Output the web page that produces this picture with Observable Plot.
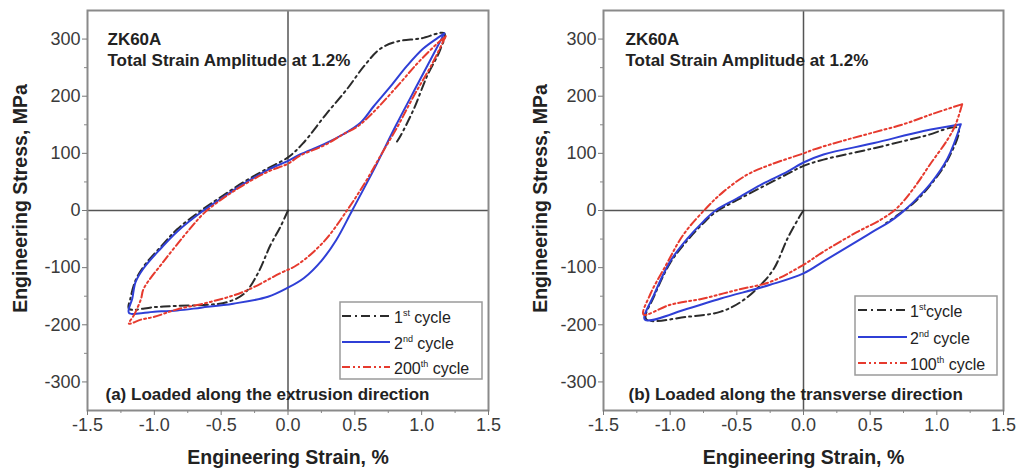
<!DOCTYPE html>
<html>
<head>
<meta charset="utf-8">
<script src="https://cdn.jsdelivr.net/npm/d3@7"></script>
<script src="https://cdn.jsdelivr.net/npm/@observablehq/plot@0.6"></script>
<style>
  html, body { margin: 0; padding: 0; background: #fff; }
  #wrap { display: flex; width: 1020px; height: 472px; }
  #wrap svg { display: block; }
</style>
</head>
<body>
<div id="wrap"></div>
<script>
// Axis ticks
const strainTicks = [-1.5, -1.0, -0.5, 0.0, 0.5, 1.0, 1.5];
const strainMinor = [-1.25, -0.75, -0.25, 0.25, 0.75, 1.25];
const stressTicks = [-300, -200, -100, 0, 100, 200, 300];
const stressMinor = [-250, -150, -50, 50, 150, 250];

// (a) extrusion direction — 1st cycle (starts at origin, compression first)
const extCycle1Strain = [0, -0.06, -0.13, -0.23, -0.33, -0.45, -0.6, -0.83, -1.0, -1.19, -1.18, -1.14, -1.08, -0.95, -0.83, -0.65, -0.5, -0.33, -0.15, 0, 0.11, 0.29, 0.44, 0.57, 0.69, 0.82, 0.99, 1.17, 1.14, 1.04, 0.94, 0.84, 0.8];
const extCycle1Stress = [0, -30, -60, -112, -146, -160, -165, -167, -169, -172, -155, -122, -98, -63, -33, 0, 24, 50, 74, 93, 117, 170, 212, 253, 283, 296, 301, 310, 282, 235, 177, 130, 115];

// (a) 2nd cycle
const extCycle2Strain = [1.17, 0.99, 0.81, 0.65, 0.48, 0.36, 0.25, 0.12, 0, -0.15, -0.41, -0.65, -0.83, -1.0, -1.19, -1.165, -1.14, -1.08, -0.95, -0.83, -0.65, -0.5, -0.33, -0.15, 0, 0.09, 0.27, 0.41, 0.54, 0.64, 0.77, 0.89, 1.01, 1.12, 1.17];
const extCycle2Stress = [310, 230, 150, 75, 0, -52, -88, -118, -135, -151, -163, -170, -175, -177, -179, -154, -125, -101, -66, -37, -3, 21, 47, 71, 87, 98, 116, 133, 153, 182, 218, 253, 283, 302, 310];

// (a) 200th cycle
const extCycle200Strain = [1.18, 1.07, 0.94, 0.82, 0.69, 0.59, 0.45, 0.27, 0.07, -0.06, -0.33, -0.58, -0.83, -1.0, -1.1, -1.19, -1.15, -1.1, -1.08, -0.93, -0.73, -0.63, -0.5, -0.33, -0.15, 0, 0.09, 0.27, 0.41, 0.52, 0.63, 0.82, 0.97, 1.12, 1.18];
const extCycle200Stress = [305, 253, 200, 147, 95, 54, 3, -54, -95, -110, -142, -160, -173, -186, -191, -198, -182, -155, -137, -89, -31, -5, 19, 45, 68, 82, 96, 114, 133, 147, 170, 218, 258, 293, 305];

// (b) transverse direction — 1st cycle
const trvCycle1Strain = [0, -0.02, -0.12, -0.22, -0.32, -0.47, -0.62, -0.87, -1.18, -1.12, -1.0, -0.87, -0.75, -0.66, -0.5, -0.32, -0.12, 0, 0.15, 0.53, 0.9, 1.16, 1.08, 0.95, 0.83, 0.7, 0.62];
const trvCycle1Stress = [0, -7, -49, -101, -130, -160, -177, -186, -190, -150, -92, -52, -22, -3, 18, 40, 64, 78, 89, 109, 130, 144, 88, 44, 14, -9, -22];

// (b) 2nd cycle
const trvCycle2Strain = [1.18, 1.08, 0.95, 0.83, 0.73, 0.65, 0.52, 0.4, 0.15, 0, -0.25, -0.62, -0.87, -1.19, -1.12, -1.0, -0.87, -0.75, -0.66, -0.5, -0.32, -0.12, 0, 0.15, 0.53, 0.9, 1.18];
const trvCycle2Stress = [151, 91, 46, 16, -5, -19, -37, -54, -89, -110, -130, -154, -172, -191, -147, -89, -49, -19, 0, 21, 45, 68, 84, 98, 118, 139, 151];

// (b) 100th cycle
const trvCycle100Strain = [1.19, 1.14, 1.08, 0.95, 0.83, 0.7, 0.58, 0.4, 0.15, 0, -0.25, -0.5, -0.75, -1.0, -1.2, -1.15, -1.03, -0.9, -0.73, -0.6, -0.42, -0.25, 0, 0.08, 0.28, 0.5, 0.75, 0.98, 1.19];
const trvCycle100Stress = [186, 150, 124, 81, 40, 4, -16, -38, -72, -95, -125, -139, -154, -165, -182, -147, -95, -42, 4, 33, 63, 80, 100, 107, 121, 135, 151, 170, 186];

const rows = (xs, ys) => xs.map((x, i) => ({strain: x, stress: ys[i]}));

const styles = {
  first:  {stroke: "#2b2b2b", strokeDasharray: "9,4,2,4"},
  second: {stroke: "#2f3fd6", strokeDasharray: null},
  later:  {stroke: "#e63a2e", strokeDasharray: "8,3,2,3,2,3"}
};

const FONT = "Liberation Sans, Arial, Helvetica, sans-serif";

function panel({c1, c2, cn, marginLeft, marginRight, yLabelDx, tag, notes, legend}) {
  const lineMark = (data, s) => Plot.line(data, {
    x: "strain", y: "stress", stroke: s.stroke, strokeWidth: 2,
    strokeDasharray: s.strokeDasharray, curve: "catmull-rom"
  });
  const svg = Plot.plot({
    width: 510, height: 472,
    marginTop: 10, marginBottom: 62, marginLeft, marginRight,
    style: {fontFamily: FONT, background: "#fff", overflow: "visible"},
    x: {domain: [-1.5, 1.5]},
    y: {domain: [-350, 350]},
    marks: [
      Plot.ruleX([0], {stroke: "#555", strokeWidth: 1.5}),
      Plot.ruleY([0], {stroke: "#555", strokeWidth: 1.5}),
      lineMark(c1, styles.first),
      lineMark(c2, styles.second),
      lineMark(cn, styles.later),
      Plot.frame({stroke: "#8a8a8a", strokeWidth: 2}),
      Plot.axisX({ticks: strainTicks, tickSize: 5, tickPadding: 3, fontSize: 18, fill: "#3a3a3a", stroke: "#777",
        tickFormat: d => d.toFixed(1), label: null}),
      Plot.axisX({ticks: strainMinor, tickSize: 3, tickFormat: () => "", stroke: "#888", label: null}),
      Plot.axisY({ticks: stressTicks, tickSize: 5, tickPadding: 2, fontSize: 18, fill: "#3a3a3a", stroke: "#777",
        tickFormat: d => String(d), label: null}),
      Plot.axisY({ticks: stressMinor, tickSize: 3, tickFormat: () => "", stroke: "#888", label: null}),
      Plot.text(["Engineering Strain, %"], {frameAnchor: "bottom", dy: 53, lineAnchor: "bottom",
        fontSize: 19.5, fontWeight: "bold", fill: "#222"}),
      Plot.text(["Engineering Stress, MPa"], {frameAnchor: "left", dx: yLabelDx, dy: -12, rotate: -90,
        textAnchor: "middle", lineAnchor: "middle", fontSize: 19.5, fontWeight: "bold", fill: "#222"}),
      Plot.text(["ZK60A"], {frameAnchor: "top-left", dx: notes.dx, dy: 22, lineAnchor: "top",
        textAnchor: "start", fontSize: 17, fontWeight: "bold", fill: "#222"}),
      Plot.text(["Total Strain Amplitude at 1.2%"], {frameAnchor: "top-left", dx: notes.dx, dy: 43, lineAnchor: "top",
        textAnchor: "start", fontSize: 17, fontWeight: "bold", fill: "#222"}),
      Plot.text([tag.text], {frameAnchor: "top-left", dx: tag.dx, dy: 377, lineAnchor: "top",
        textAnchor: "start", fontSize: 17, fontWeight: "bold", fill: "#222"})
    ]
  });

  // Legend box with line samples
  const g = d3.select(svg).append("g")
    .attr("font-family", FONT).attr("fill", "#222").attr("text-anchor", "start");
  g.append("rect").attr("x", legend.x0).attr("y", legend.y0)
    .attr("width", legend.x1 - legend.x0).attr("height", legend.y1 - legend.y0)
    .attr("fill", "#fff").attr("stroke", "#9a9a9a").attr("stroke-width", 1.5);
  legend.items.forEach((it, i) => {
    const ly = legend.lineY[i];
    g.append("line").attr("x1", legend.lx0).attr("x2", legend.lx1).attr("y1", ly).attr("y2", ly)
      .attr("stroke", it.style.stroke).attr("stroke-width", 2.2)
      .attr("stroke-dasharray", it.style.strokeDasharray);
    const t = g.append("text").attr("x", legend.tx).attr("y", ly + 6.5)
      .attr("font-size", 16).attr("text-anchor", "start");
    t.append("tspan").text(it.n);
    t.append("tspan").attr("font-size", 9).attr("dy", -7).text(it.sup);
    t.append("tspan").attr("dy", 7).text(it.rest);
  });
  return svg;
}

const wrap = document.getElementById("wrap");

wrap.appendChild(panel({
  c1: rows(extCycle1Strain, extCycle1Stress),
  c2: rows(extCycle2Strain, extCycle2Stress),
  cn: rows(extCycle200Strain, extCycle200Stress),
  marginLeft: 87, marginRight: 22, yLabelDx: -67,
  notes: {dx: 20},
  tag: {text: "(a) Loaded along the extrusion direction", dx: 18},
  legend: {
    x0: 340, x1: 482, y0: 302, y1: 379, lx0: 342, lx1: 390, tx: 394,
    lineY: [316, 342, 367],
    items: [
      {n: "1", sup: "st", rest: " cycle", style: styles.first},
      {n: "2", sup: "nd", rest: " cycle", style: styles.second},
      {n: "200", sup: "th", rest: " cycle", style: styles.later}
    ]
  }
}));

wrap.appendChild(panel({
  c1: rows(trvCycle1Strain, trvCycle1Stress),
  c2: rows(trvCycle2Strain, trvCycle2Stress),
  cn: rows(trvCycle100Strain, trvCycle100Stress),
  marginLeft: 93, marginRight: 17, yLabelDx: -63,
  notes: {dx: 22},
  tag: {text: "(b) Loaded along the transverse direction", dx: 25},
  legend: {
    x0: 345, x1: 487, y0: 296, y1: 375, lx0: 348, lx1: 397, tx: 400,
    lineY: [310, 337, 363],
    items: [
      {n: "1", sup: "st", rest: "cycle", style: styles.first},
      {n: "2", sup: "nd", rest: " cycle", style: styles.second},
      {n: "100", sup: "th", rest: " cycle", style: styles.later}
    ]
  }
}));
</script>
</body>
</html>
